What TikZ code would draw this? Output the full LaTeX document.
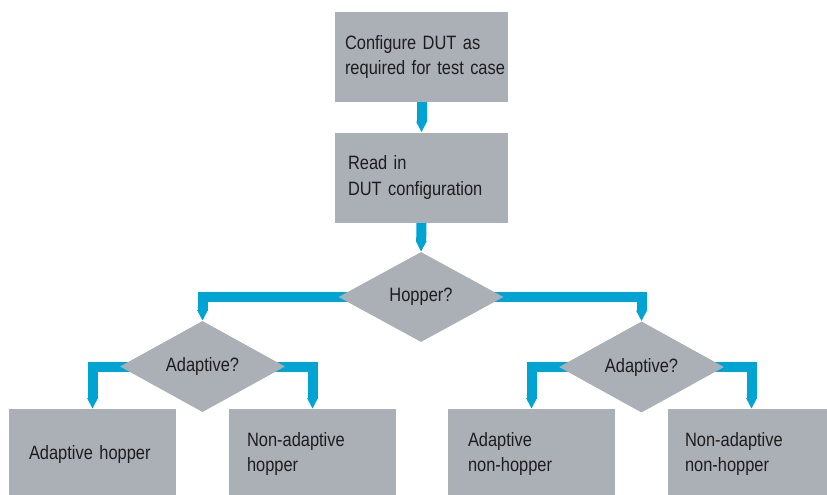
\documentclass[tikz,border=0pt]{standalone}
\usepackage{fontspec}
\setmainfont{Liberation Sans}[FakeStretch=0.85]
\usetikzlibrary{arrows.meta,shapes.geometric,backgrounds}
\definecolor{boxgray}{RGB}{171,176,182}
\definecolor{flowblue}{RGB}{0,164,211}
\definecolor{inkc}{RGB}{30,28,30}
\begin{document}
\begin{tikzpicture}[x=0.75pt,y=-0.75pt,
  txt/.style={text=inkc, font=\fontsize{14.5pt}{19pt}\selectfont},
  box/.style={txt, fill=boxgray, inner xsep=0pt, inner ysep=0pt, align=left,
    minimum height=67.5pt, execute at begin node={\leftskip=#1\relax}},
  topbox/.style={box=#1, text width=129.75pt},
  leafbox/.style={box=#1, text width=125.25pt},
  decision/.style={txt, diamond, fill=boxgray, inner sep=0pt,
    minimum width=123.75pt, minimum height=67.5pt},
  flow/.style={draw=flowblue, line width=7.5pt,
    -{Triangle[length=8pt,width=7.5pt]}}
]
\useasboundingbox (0,0) rectangle (827,494);
\clip (0,0) rectangle (827,494);

\node[topbox=7.5pt] (c1) at (421.5,57) {Configure DUT as\\required for test case};
\node[topbox=9.75pt] (c2) at (421.5,177.5) {Read in\\DUT configuration};
\node[decision] (hop) at (421,297) {Hopper?};
\node[decision] (adL) at (202.5,366.5) {Adaptive?};
\node[decision] (adR) at (641.5,367) {Adaptive?};
\node[leafbox=15pt] (lA) at (92.5,454) {Adaptive hopper};
\node[leafbox=13.5pt] (lB) at (312.5,454) {Non-adaptive\\hopper};
\node[leafbox=15pt] (lC) at (531.5,454) {Adaptive\\non-hopper};
\node[leafbox=12.75pt] (lD) at (751.5,454) {Non-adaptive\\non-hopper};

\begin{scope}[on background layer]
\draw[flow] (c1.south) -- (c2.north);
\draw[flow] (c2.south) -- (hop.north);
\draw[flow] (hop.center) -| (adL.north);
\draw[flow] (hop.center) -| (adR.north);
\draw[flow] (adL.center) -| (lA.north);
\draw[flow] (adL.center) -| (lB.north);
\draw[flow] (adR.center) -| (lC.north);
\draw[flow] (adR.center) -| (lD.north);
\end{scope}
\end{tikzpicture}
\end{document}
